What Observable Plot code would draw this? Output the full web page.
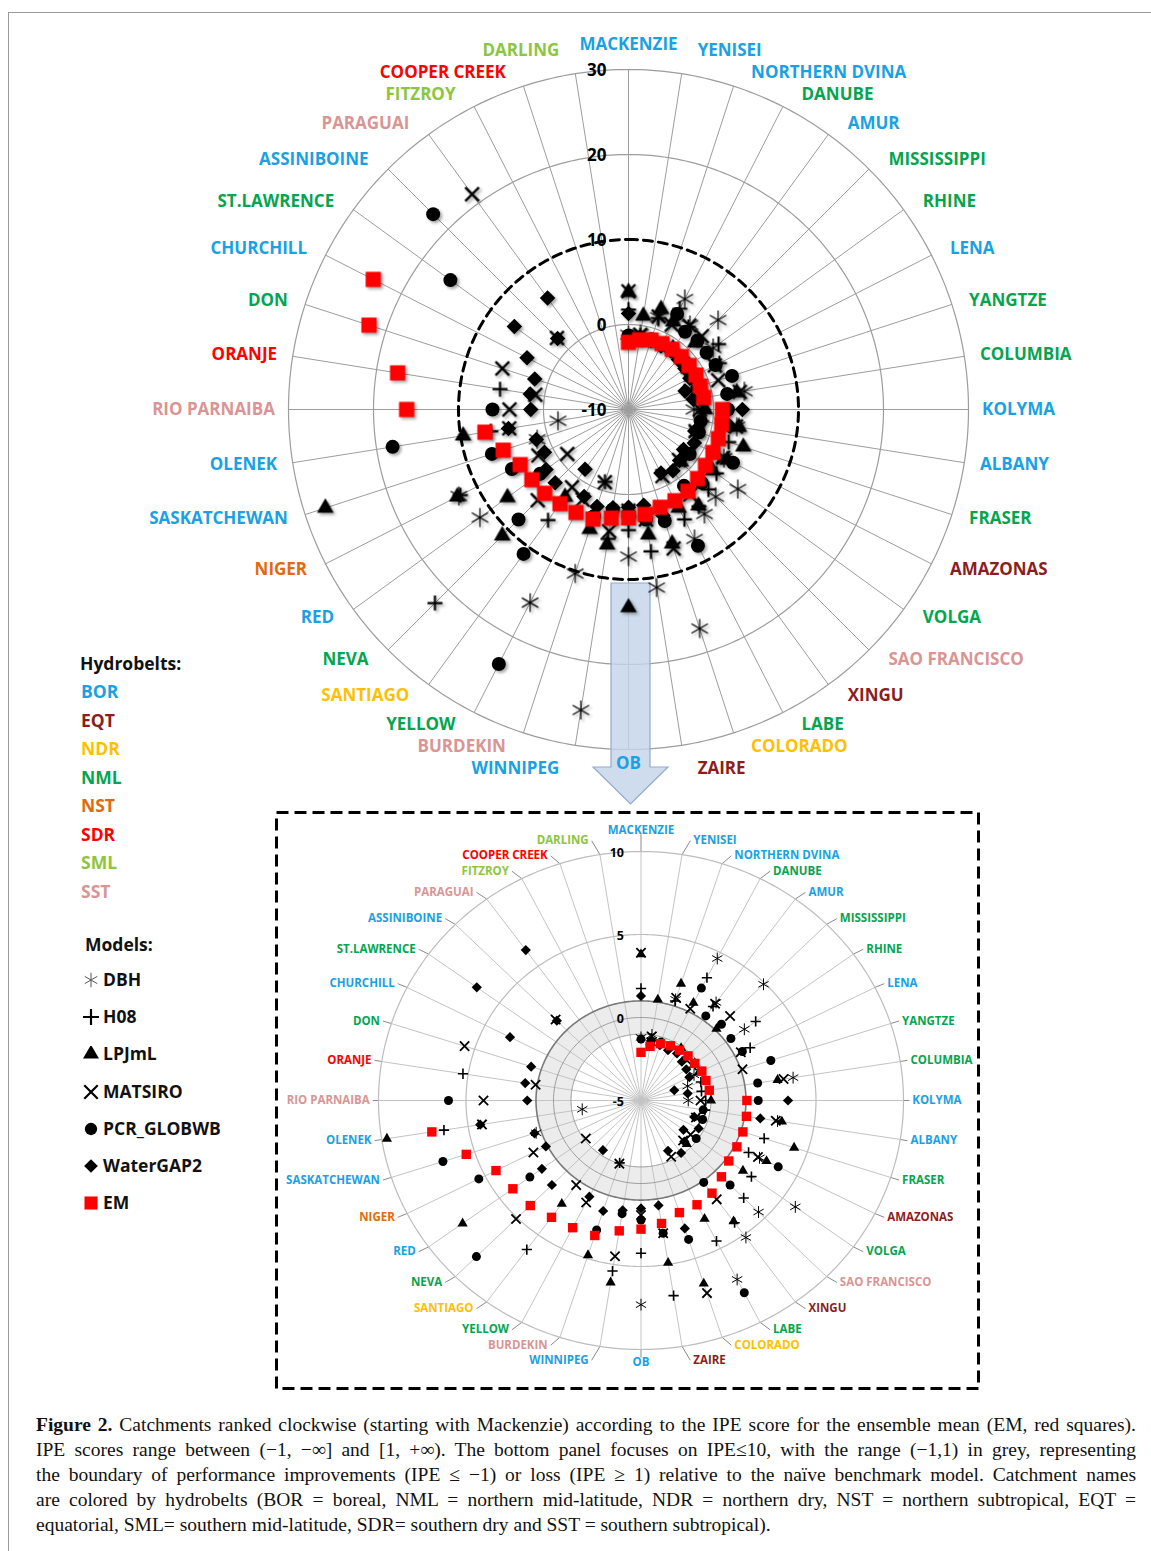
<!DOCTYPE html>
<html><head><meta charset="utf-8">
<script src="https://cdn.jsdelivr.net/npm/d3@7"></script>
<script src="https://cdn.jsdelivr.net/npm/@observablehq/plot@0.6"></script>
<style>
body{margin:0;background:#fff;}
#page{position:relative;width:1151px;height:1551px;overflow:hidden;font-family:"Open Sans",sans-serif;background:#fff;}
#frame{position:absolute;left:8px;top:12px;right:-4px;bottom:-4px;border-left:1px solid #9a9a9a;border-top:1px solid #9a9a9a;}
.lg{position:absolute;font-weight:700;font-size:17.5px;line-height:22px;white-space:nowrap;font-family:"Open Sans",sans-serif;}
.lg svg{vertical-align:-2px;margin-right:4px;}
#caption{position:absolute;left:36px;top:1412px;width:1100px;font-family:"Liberation Serif",serif;font-size:19.5px;line-height:25px;color:#111;}
#caption div{white-space:nowrap;text-align:justify;text-align-last:justify;}
#caption div.last{text-align-last:left;}
</style></head><body><div id="page"><div id="frame"></div></div>
<script>
// ---------- data ----------
const catchments = ["MACKENZIE","YENISEI","NORTHERN DVINA","DANUBE","AMUR","MISSISSIPPI","RHINE","LENA","YANGTZE","COLUMBIA",
  "KOLYMA","ALBANY","FRASER","AMAZONAS","VOLGA","SAO FRANCISCO","XINGU","LABE","COLORADO","ZAIRE",
  "OB","WINNIPEG","BURDEKIN","YELLOW","SANTIAGO","NEVA","RED","NIGER","SASKATCHEWAN","OLENEK",
  "RIO PARNAIBA","ORANJE","DON","CHURCHILL","ST.LAWRENCE","ASSINIBOINE","PARAGUAI","FITZROY","COOPER CREEK","DARLING"];
const hydrobelts = ["BOR","BOR","BOR","NML","BOR","NML","NML","BOR","NML","NML",
  "BOR","BOR","NML","EQT","NML","SST","EQT","NML","NDR","EQT",
  "BOR","BOR","SST","NML","NDR","NML","BOR","NST","BOR","BOR",
  "SST","SDR","NML","BOR","NML","BOR","SST","SML","SDR","SML"];
const beltNames = ["BOR","EQT","NDR","NML","NST","SDR","SML","SST"];
const beltColors = ["#1aa1e4","#8c1d1d","#ffc000","#04a54f","#e4690c","#ff0000","#8cc63e","#d99594"];
const modelNames = ["DBH","H08","LPJmL","MATSIRO","PCR_GLOBWB","WaterGAP2","EM"];

// IPE scores per catchment (null = not visible / beyond the outer ring)
const DBH = [-1.2,-1.0,1.4,4.6,2.3,4.9,2.3,-1.6,-2.2,3.8, -2.3,2.9,-1.5,2.6,5.9,4.5,5.2,7.1,17.1,11.2,
  7.3,25.8,10.3,15.5,null,null,11.6,12.4,1.3,-1.6, null,null,null,null,null,null,null,null,null,null];
const H08 = [1.75,-1.2,1.3,3.3,2.0,-1.3,3.1,2.0,-1.4,-1.5, -1.3,-1.3,2.4,1.9,2.8,3.3,4.1,4.5,null,6.9,
  4.2,5.4,-1.05,null,6.1,22.2,null,12.2,null,6.4, null,5.3,null,null,null,null,null,null,null,null];
const LPJmL = [3.8,1.15,2.4,1.6,-1.1,1.1,-1.2,-1.3,-1.2,2.9, -1.0,3.15,4.2,3.05,2.2,-1.3,4.0,3.0,6.6,4.9,
  13.3,6.1,4.8,null,2.7,11.0,7.6,12.6,27.5,9.7, null,null,null,null,null,null,null,null,null,null];
const MATSIRO = [3.9,-1.1,1.5,1.2,2.2,2.2,-1.4,1.4,1.1,3.25, -1.6,2.8,-1.7,2.5,-1.5,-1.6,2.36,-1.2,7.2,3.1,
  1.9,4.5,-1.0,1.9,1.3,5.1,-1.1,1.9,null,4.2, 4.0,1.1,5.6,null,null,1.9,21.3,null,null,null];
const PCR_GLOBWB = [-1.3,-1.4,-1.3,2.6,1.3,1.5,1.35,1.5,2.8,1.75, 1.7,-1.4,-1.3,3.8,-1.1,2.2,1.1,8.0,3.8,3.1,
  2.2,1.9,3.2,23.6,11.0,8.3,2.85,5.4,6.9,18.1, 6.0,null,null,null,15.9,22.5,null,null,null,null];
const WaterGAP2 = [1.3,-1.6,-1.5,-1.6,-1.5,-1.7,-1.8,-1.9,-3.0,-2.3, 3.4,1.9,-1.8,-1.3,-2.0,-1.5,-1.1,-1.6,3.1,1.4,
  1.5,1.7,2.0,1.5,-1.3,2.2,2.0,1.1,1.4,4.3, 1.5,1.7,1.6,3.4,6.6,1.8,6.2,null,null,null];
const EM = [-2.1,-1.7,-1.4,-1.3,-1.25,-1.2,-1.2,-1.1,-1.1,-1.05, 1.05,1.1,1.12,1.15,1.2,1.5,1.9,2.05,2.1,2.5,
  2.75,2.95,3.55,3.6,3.7,3.95,4.05,4.3,5.5,7.1, 16.1,17.5,22.1,23.7,null,null,null,null,null,null];

const topTicks = [30,20,10,0,-10];
const bottomTicks = [10,5,0,-5];

const captionLines = [
  ["Figure 2.", " Catchments ranked clockwise (starting with Mackenzie) according to the IPE score for the ensemble mean (EM, red squares)."],
  ["", "IPE scores range between (\u22121, \u2212\u221e] and [1, +\u221e). The bottom panel focuses on IPE\u226410, with the range (\u22121,1) in grey, representing"],
  ["", "the boundary of performance improvements (IPE \u2264 \u22121) or loss (IPE \u2265 1) relative to the na\u00efve benchmark model. Catchment names"],
  ["", "are colored by hydrobelts (BOR = boreal, NML = northern mid-latitude, NDR = northern dry, NST = northern subtropical, EQT ="],
  ["", "equatorial, SML= southern mid-latitude, SDR= southern dry and SST = southern subtropical)."]
];

// ---------- derived ----------
const series = {DBH, H08, LPJmL, MATSIRO, PCR_GLOBWB, WaterGAP2, EM};
const colorOf = Object.fromEntries(beltNames.map((b,i)=>[b, beltColors[i]]));
const N = catchments.length;
const ang = i => i * 2 * Math.PI / N;
const idx = d3.range(N);
const points = [];
modelNames.forEach(m => series[m].forEach((v,i) => { if (v != null) points.push({model:m, i, v}); }));
const lab = idx.map(i => ({i, name: catchments[i], color: colorOf[hydrobelts[i]], s: Math.sin(ang(i)), c: Math.cos(ang(i))}));
const ring = R => d3.range(0, 361, 1).map(a => ({x: R*Math.sin(a*Math.PI/180), y: R*Math.cos(a*Math.PI/180)}));

const sym = {
  DBH:{symbol:"asterisk", fill:"none", stroke:"#000", sw:1.2},
  H08:{symbol:"plus", fill:"none", stroke:"#000", sw:2.2},
  LPJmL:{symbol:"triangle", fill:"#000", stroke:"none", sw:0},
  MATSIRO:{symbol:"times", fill:"none", stroke:"#000", sw:2.4},
  PCR_GLOBWB:{symbol:"circle", fill:"#000", stroke:"none", sw:0},
  WaterGAP2:{symbol:"diamond2", fill:"#000", stroke:"none", sw:0},
  EM:{symbol:"square", fill:"#ff0000", stroke:"none", sw:0}
};
const rTopSize = {DBH:9, H08:4.9, LPJmL:6.2, MATSIRO:6.3, PCR_GLOBWB:7, WaterGAP2:7, EM:8.6};
const rBotSize = {DBH:5.6, H08:3.4, LPJmL:3.8, MATSIRO:4.3, PCR_GLOBWB:4.5, WaterGAP2:4.6, EM:5.3};

// label placement: along each spoke, nudged sideways near the poles and de-overlapped vertically
function layoutLabels(R, kx, ky, padPx, gapPx, poleExtraPx) {
  const items = lab.map(d => {
    const side = d.s > 0.1 ? "start" : d.s < -0.1 ? "end" : (d.c > 0 ? "top" : "bottom");
    const px = R*d.s*kx + (side==="start" ? padPx*Math.abs(d.c) : side==="end" ? -padPx*Math.abs(d.c) : 0);
    const py = R*d.c*ky + (side==="top" ? poleExtraPx : 0);
    return {...d, side, px, py};
  });
  for (const side of ["start","end"]) {
    const upper = items.filter(d=>d.side===side && d.c >= -1e-9).sort((a,b)=>a.py-b.py);
    for (let k=1;k<upper.length;k++) if (upper[k].py < upper[k-1].py + gapPx) upper[k].py = upper[k-1].py + gapPx;
    const lower = items.filter(d=>d.side===side && d.c < -1e-9).sort((a,b)=>b.py-a.py);
    for (let k=1;k<lower.length;k++) if (lower[k].py > lower[k-1].py - gapPx) lower[k].py = lower[k-1].py - gapPx;
  }
  return items.map(d => ({...d, lx: d.px/kx, ly: d.py/ky}));
}
function labelMarks(items, fontSize, bottomAnchor) {
  const base = {x:"lx", y:"ly", text:"name", fill:"color", fontWeight:"bold", fontSize, fontFamily:"Open Sans"};
  return [
    Plot.text(items.filter(d=>d.side==="start"), {...base, textAnchor:"start"}),
    Plot.text(items.filter(d=>d.side==="end"), {...base, textAnchor:"end"}),
    Plot.text(items.filter(d=>d.side==="top"), {...base, textAnchor:"middle", lineAnchor:"bottom"}),
    Plot.text(items.filter(d=>d.side==="bottom"), {...base, textAnchor:"middle", lineAnchor:bottomAnchor})
  ];
}
function dotMarks(pts, rOf, sizes, sws) {
  return modelNames.map(m => Plot.dot(pts.filter(d=>d.model===m), {
    x: d => rOf(d.v)*Math.sin(ang(d.i)), y: d => rOf(d.v)*Math.cos(ang(d.i)),
    symbol: sym[m].symbol, r: sizes[m], fill: sym[m].fill, stroke: sym[m].stroke,
    strokeWidth: sws ? sws[m] : sym[m].sw
  }));
}

const page = document.getElementById("page");

// ---------- top panel ----------
const T = {w:1151, h:812, cx:628, cy:409, k:8.5};
const rT = v => v + 10;
const topLabels = layoutLabels(41.6, T.k, T.k, 14, 22, 6);
const topPlot = Plot.plot({
  width:T.w, height:T.h, margin:0,
  x:{domain:[-T.cx/T.k, (T.w-T.cx)/T.k], range:[0,T.w]},
  y:{domain:[-(T.h-T.cy)/T.k, T.cy/T.k], range:[T.h,0]},
  color:{type:"identity"},
  axis:null,
  style:{fontFamily:"Open Sans", background:"transparent", overflow:"visible"},
  marks:[
    Plot.link(idx, {x1:0, y1:0, x2:i=>rT(30)*Math.sin(ang(i)), y2:i=>rT(30)*Math.cos(ang(i)), stroke:"#9d9d9d", strokeWidth:1}),
    ...[0,20,30].map(t => Plot.line(ring(rT(t)), {x:"x", y:"y", stroke:"#9d9d9d", strokeWidth:1.2})),
    Plot.line(ring(rT(10)), {x:"x", y:"y", stroke:"#000", strokeWidth:3, strokeDasharray:"9,6"}),
    Plot.text(topTicks, {x:0, y:t=>rT(t), text:t=>String(t), textAnchor:"end", dx:-22, dy:1, fontWeight:"bold", fontSize:17, fill:"#000", fontFamily:"Open Sans"}),
    ...labelMarks(topLabels, 17, "middle"),
    ...dotMarks(points.filter(d=>d.v<=30), rT, rTopSize)
  ]
});
topPlot.style.position = "absolute"; topPlot.style.left = "0px"; topPlot.style.top = "0px";
page.appendChild(topPlot);
// arrow (decoration) under labels and markers
{
  const ns = "http://www.w3.org/2000/svg";
  const p = document.createElementNS(ns, "path");
  p.setAttribute("d", "M611,583 L650,583 L650,767 L668,767 L630.5,804 L593,767 L611,767 Z");
  p.setAttribute("fill", "#c3d4ea"); p.setAttribute("fill-opacity", "0.82");
  p.setAttribute("stroke", "#93abcc"); p.setAttribute("stroke-width", "1.2");
  const firstText = topPlot.querySelector('g[aria-label="text"]');
  firstText.parentNode.insertBefore(p, firstText);
  topPlot.querySelectorAll('g[aria-label="dot"]').forEach(g => g.style.filter = "drop-shadow(2px 2px 1.5px rgba(0,0,0,0.35))");
}

// ---------- bottom panel ----------
const B = {left:274, top:810, w:706, h:580, cx:366.5, cy:290, kx:17.5, ky:16.6};
const rB = v => v + 5;
const botLabels = layoutLabels(15.5, B.kx, B.ky, 10, 15, 9);
const botPlot = Plot.plot({
  width:B.w, height:B.h, margin:0,
  x:{domain:[-B.cx/B.kx, (B.w-B.cx)/B.kx], range:[0,B.w]},
  y:{domain:[-(B.h-B.cy)/B.ky, B.cy/B.ky], range:[B.h,0]},
  color:{type:"identity"},
  axis:null,
  style:{fontFamily:"Open Sans", background:"transparent", overflow:"visible"},
  marks:[
    Plot.line(ring(rB(1)), {x:"x", y:"y", fill:"#ececec", stroke:"none"}),
    Plot.line(ring(rB(-1)), {x:"x", y:"y", fill:"#ffffff", stroke:"none"}),
    Plot.link(idx, {x1:0, y1:0, x2:i=>rB(10)*Math.sin(ang(i)), y2:i=>rB(10)*Math.cos(ang(i)), stroke:"#c4c4c4", strokeWidth:1}),
    Plot.link(botLabels, {x1:d=>rB(10)*d.s, y1:d=>rB(10)*d.c, x2:d=>d.lx - (d.side==="start"? 3/B.kx : d.side==="end" ? -3/B.kx : 0), y2:d=>d.ly, stroke:"#8a8a8a", strokeWidth:1}),
    ...[5,10].map(t => Plot.line(ring(rB(t)), {x:"x", y:"y", stroke:"#bdbdbd", strokeWidth:1.2})),
    Plot.line(ring(rB(-1)), {x:"x", y:"y", stroke:"#9a9a9a", strokeWidth:1}),
    Plot.line(ring(rB(0)), {x:"x", y:"y", stroke:"#9a9a9a", strokeWidth:1}),
    Plot.line(ring(rB(1)), {x:"x", y:"y", stroke:"#7a7a7a", strokeWidth:1.6}),
    Plot.text(bottomTicks, {x:0, y:t=>rB(t), text:t=>String(t), textAnchor:"end", dx:-17, dy:1, fontWeight:"bold", fontSize:12.5, fill:"#000", fontFamily:"Open Sans"}),
    ...labelMarks(botLabels, 11.5, "top"),
    ...dotMarks(points.filter(d=>d.v<=10), rB, rBotSize, {DBH:1, H08:1.6, LPJmL:0, MATSIRO:1.8, PCR_GLOBWB:0, WaterGAP2:0, EM:0}),
    Plot.frame({stroke:"#000", strokeWidth:3, strokeDasharray:"12,6", inset:2})
  ]
});
botPlot.style.position = "absolute"; botPlot.style.left = B.left+"px"; botPlot.style.top = B.top+"px";
page.appendChild(botPlot);

// ---------- legend ----------
function addLine(html, x, cy, color) {
  const d = document.createElement("div");
  d.className = "lg"; d.style.left = x+"px"; d.style.top = (cy-11)+"px"; d.style.color = color;
  d.innerHTML = html; page.appendChild(d);
}
addLine("Hydrobelts:", 80, 663, "#111");
beltNames.forEach((b,i) => addLine(b, 81, 691 + i*28.5, beltColors[i]));
addLine("Models:", 85, 944, "#111");
const legendSym = {DBH:[d3.symbolAsterisk,150,"none","#555",1], H08:[d3.symbolPlus,95,"none","#000",2.2], LPJmL:[d3.symbolTriangle,110,"#000","none",0],
  MATSIRO:[d3.symbolTimes,120,"none","#000",2.2], PCR_GLOBWB:[d3.symbolCircle,120,"#000","none",0], WaterGAP2:[d3.symbolDiamond2,120,"#000","none",0], EM:[d3.symbolSquare,170,"#ff0000","none",0]};
const modelY = [979,1016,1053,1091,1128,1165,1202];
modelNames.forEach((m,i) => {
  const [s,size,fill,stroke,sw] = legendSym[m];
  const path = d3.symbol(s, size)();
  const svg = `<svg width="16" height="16" viewBox="-8 -8 16 16"><path d="${path}" fill="${fill}" stroke="${stroke}" stroke-width="${sw}"/></svg>`;
  addLine(svg + m, 83, modelY[i], "#111");
});

// ---------- caption ----------
const cap = document.createElement("div");
cap.id = "caption";
captionLines.forEach((l,i) => {
  const d = document.createElement("div");
  if (i === captionLines.length-1) d.className = "last";
  if (l[0]) { const b = document.createElement("b"); b.textContent = l[0]; d.appendChild(b); }
  d.appendChild(document.createTextNode(l[1]));
  cap.appendChild(d);
});
page.appendChild(cap);
</script></body></html>
